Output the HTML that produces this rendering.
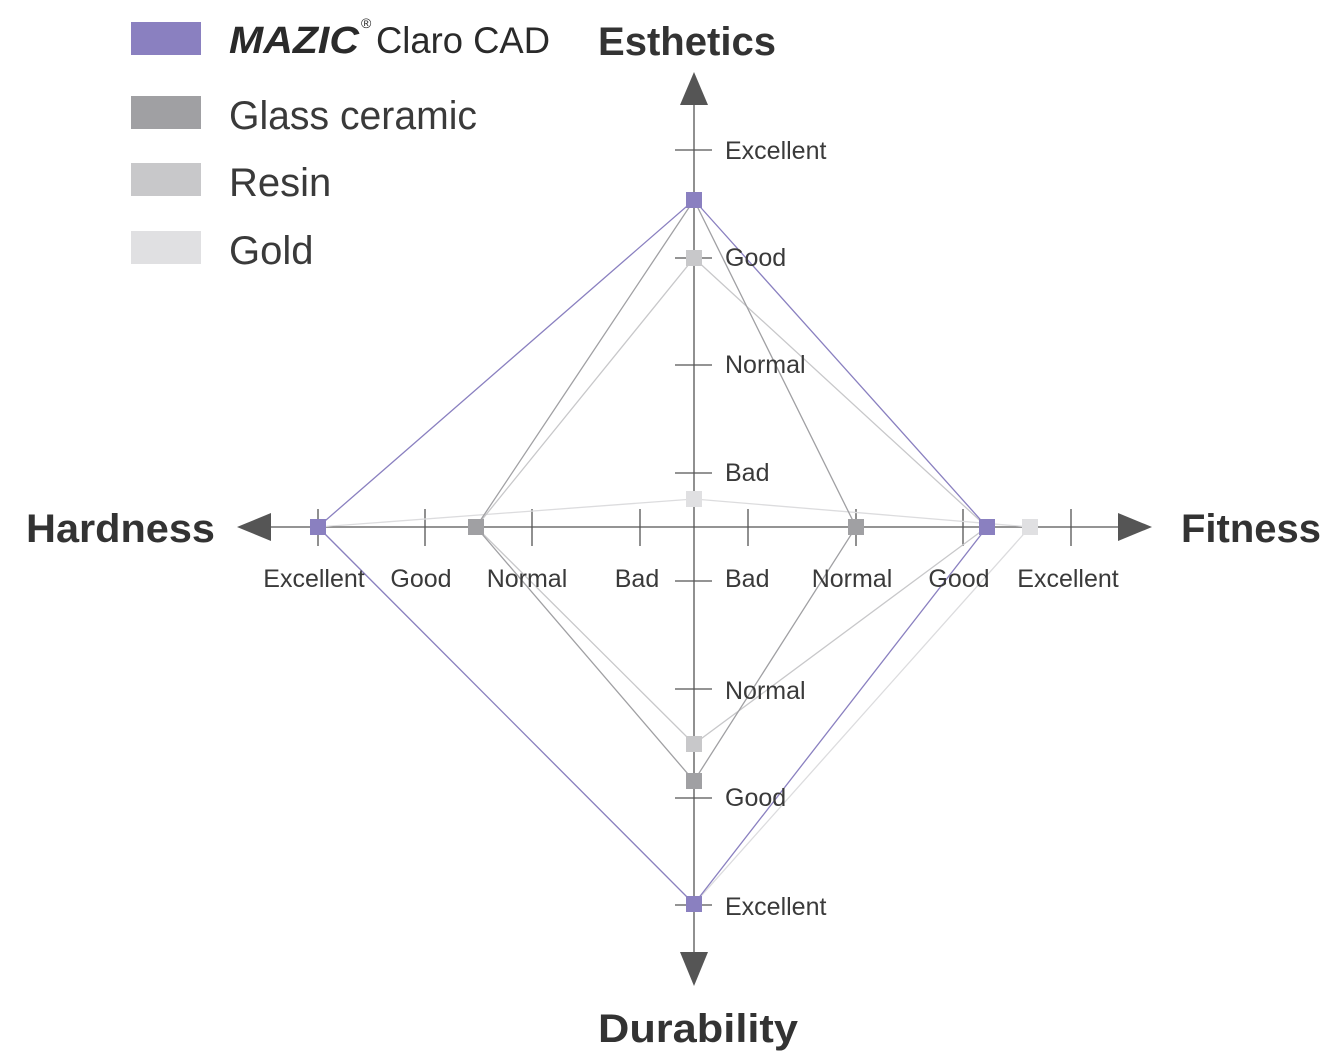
<!DOCTYPE html>
<html><head><meta charset="utf-8"><style>
html,body{margin:0;padding:0;background:#fff}
svg{display:block}
text{font-family:"Liberation Sans",sans-serif;fill:#333}
.t{font-size:25px;fill:#3a3a3a}
.h{font-size:40px;font-weight:bold;fill:#333}
.l{font-size:40px;fill:#3a3a3a}
</style></head><body>
<svg width="1333" height="1064" viewBox="0 0 1333 1064" xmlns="http://www.w3.org/2000/svg">
<!-- legend -->
<rect x="131" y="22" width="70" height="33" fill="#8a80c0"/>
<rect x="131" y="96" width="70" height="33" fill="#a0a0a3"/>
<rect x="131" y="163" width="70" height="33" fill="#c8c8ca"/>
<rect x="131" y="231" width="70" height="33" fill="#e0e0e2"/>
<text x="229" y="53" style="font-size:38px;font-weight:bold;font-style:italic;fill:#2a2a2a" textLength="130" lengthAdjust="spacingAndGlyphs">MAZIC</text>
<text x="361" y="28" style="font-size:14px;fill:#2a2a2a">®</text>
<text x="376" y="53" style="font-size:37px;fill:#2a2a2a" textLength="174" lengthAdjust="spacingAndGlyphs">Claro CAD</text>
<text x="229" y="129" class="l" textLength="248" lengthAdjust="spacingAndGlyphs">Glass ceramic</text>
<text x="229" y="196" class="l">Resin</text>
<text x="229" y="264" class="l">Gold</text>
<!-- axes -->
<g stroke="#555" stroke-width="1.3">
<line x1="694" y1="100" x2="694" y2="955"/>
<line x1="268" y1="527" x2="1120" y2="527"/>
<line x1="675" y1="150" x2="712" y2="150"/>
<line x1="675" y1="258" x2="712" y2="258"/>
<line x1="675" y1="365" x2="712" y2="365"/>
<line x1="675" y1="473" x2="712" y2="473"/>
<line x1="675" y1="581" x2="712" y2="581"/>
<line x1="675" y1="689" x2="712" y2="689"/>
<line x1="675" y1="798" x2="712" y2="798"/>
<line x1="675" y1="905" x2="712" y2="905"/>
<line x1="318" y1="509" x2="318" y2="546"/>
<line x1="425" y1="509" x2="425" y2="546"/>
<line x1="532" y1="509" x2="532" y2="546"/>
<line x1="640" y1="509" x2="640" y2="546"/>
<line x1="748" y1="509" x2="748" y2="546"/>
<line x1="856" y1="509" x2="856" y2="546"/>
<line x1="963" y1="509" x2="963" y2="546"/>
<line x1="1071" y1="509" x2="1071" y2="546"/>
</g>
<g fill="#555">
<polygon points="694,72 680,105 708,105"/>
<polygon points="694,986 680,952 708,952"/>
<polygon points="237,527 271,513 271,541"/>
<polygon points="1152,527 1118,513 1118,541"/>
</g>
<!-- data lines -->
<g fill="none" stroke-width="1.3">
<polygon points="694,499 1030,527 694,904 318,527" stroke="#dcdcde"/>
<polygon points="694,258 987,527 694,744 476,527" stroke="#c8c8ca"/>
<polygon points="694,200 856,527 694,781 476,527" stroke="#a0a0a3"/>
<polygon points="694,200 987,527 694,904 318,527" stroke="#8a80c0"/>
</g>
<!-- markers -->
<g>
<rect x="686" y="491" width="16" height="16" fill="#e0e0e2"/>
<rect x="1022" y="519" width="16" height="16" fill="#e0e0e2"/>
<rect x="686" y="250" width="16" height="16" fill="#c8c8ca"/>
<rect x="686" y="736" width="16" height="16" fill="#c8c8ca"/>
<rect x="848" y="519" width="16" height="16" fill="#a0a0a3"/>
<rect x="468" y="519" width="16" height="16" fill="#a0a0a3"/>
<rect x="686" y="773" width="16" height="16" fill="#a0a0a3"/>
<rect x="686" y="192" width="16" height="16" fill="#8a80c0"/>
<rect x="979" y="519" width="16" height="16" fill="#8a80c0"/>
<rect x="686" y="896" width="16" height="16" fill="#8a80c0"/>
<rect x="310" y="519" width="16" height="16" fill="#8a80c0"/>
</g>
<!-- tick labels -->
<text x="725" y="159" class="t">Excellent</text>
<text x="725" y="266" class="t">Good</text>
<text x="725" y="373" class="t">Normal</text>
<text x="725" y="481" class="t">Bad</text>
<text x="725" y="587" class="t">Bad</text>
<text x="725" y="699" class="t">Normal</text>
<text x="725" y="806" class="t">Good</text>
<text x="725" y="915" class="t">Excellent</text>
<g text-anchor="middle">
<text x="314" y="587" class="t">Excellent</text>
<text x="421" y="587" class="t">Good</text>
<text x="527" y="587" class="t">Normal</text>
<text x="637" y="587" class="t">Bad</text>
<text x="852" y="587" class="t">Normal</text>
<text x="959" y="587" class="t">Good</text>
<text x="1068" y="587" class="t">Excellent</text>
</g>
<!-- axis titles -->
<text x="598" y="55" class="h" textLength="178" lengthAdjust="spacingAndGlyphs">Esthetics</text>
<text x="598" y="1042" class="h" textLength="200" lengthAdjust="spacingAndGlyphs">Durability</text>
<text x="26" y="542" class="h" textLength="189" lengthAdjust="spacingAndGlyphs">Hardness</text>
<text x="1181" y="542" class="h" textLength="140" lengthAdjust="spacingAndGlyphs">Fitness</text>
</svg>
</body></html>
